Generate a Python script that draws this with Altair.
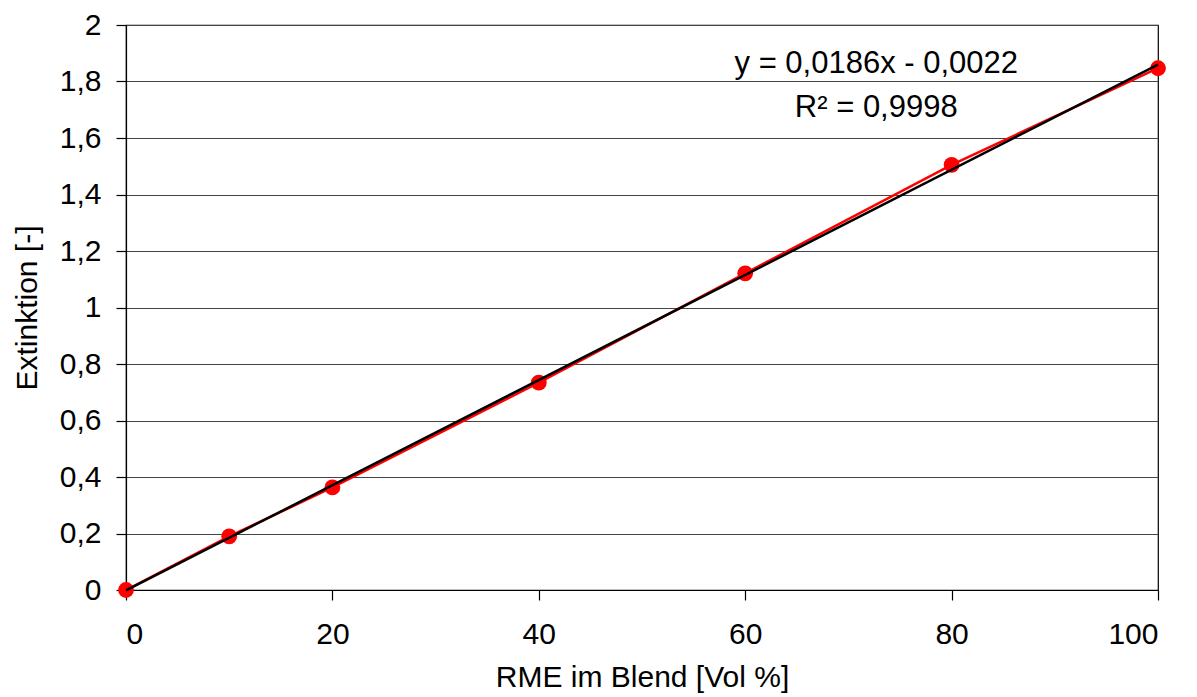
import altair as alt
import pandas as pd

# Measured absorbance for RME blend fractions
rme_vol = [0, 10, 20, 40, 60, 80, 100]
extinktion = [0.0, 0.19, 0.363, 0.734, 1.121, 1.505, 1.847]

x_ticks = [0, 20, 40, 60, 80, 100]
y_ticks = [0, 0.2, 0.4, 0.6, 0.8, 1.0, 1.2, 1.4, 1.6, 1.8, 2.0]

# Trendline equation and fit quality, placed near the upper right
note_lines = ["y = 0,0186x - 0,0022", "R² = 0,9998"]
note_x = [72.7, 72.7]
note_y = [1.83, 1.675]

df = pd.DataFrame({"x": rme_vol, "y": extinktion})
notes = pd.DataFrame({"text": note_lines, "x": note_x, "y": note_y})

FONT = "Liberation Sans"

x_enc = alt.X(
    "x:Q",
    scale=alt.Scale(domain=[0, 100], nice=False),
    axis=alt.Axis(
        title="RME im Blend [Vol %]",
        values=x_ticks,
        grid=False,
        tickSize=10,
        labelPadding=19,
        titlePadding=13,
    ),
)
y_enc = alt.Y(
    "y:Q",
    scale=alt.Scale(domain=[0, 2], nice=False),
    axis=alt.Axis(
        title="Extinktion [-]",
        values=y_ticks,
        grid=True,
        tickSize=10,
        labelPadding=15,
        titlePadding=17,
        labelExpr="replace(format(datum.value, ''), '.', ',')",
    ),
)

base = alt.Chart(df)

series_line = base.mark_line(color="#ff0000", strokeWidth=2.5).encode(x=x_enc, y=y_enc)
series_pts = base.mark_circle(color="#ff0000", size=250, opacity=1).encode(x="x:Q", y="y:Q")
trend = (
    base.transform_regression("x", "y", method="linear", extent=[0, 100])
    .mark_line(color="#000000", strokeWidth=2.5)
    .encode(x="x:Q", y="y:Q")
)
labels = (
    alt.Chart(notes)
    .mark_text(font=FONT, fontSize=31, color="#000000", align="center", baseline="alphabetic")
    .encode(x="x:Q", y="y:Q", text="text:N")
)

chart = (
    alt.layer(series_line, series_pts, trend, labels)
    .properties(
        width=1032,
        height=565,
        padding={"left": 126, "top": 25, "right": 39, "bottom": 107},
        autosize=alt.AutoSizeParams(type="none"),
        background="white",
    )
    .configure_view(stroke="#000000", strokeWidth=1.2)
    .configure_axis(
        labelFont=FONT,
        titleFont=FONT,
        labelFontSize=30,
        titleFontSize=30,
        titleFontWeight="normal",
        labelColor="#000000",
        titleColor="#000000",
        domainColor="#000000",
        domainWidth=1.2,
        tickColor="#000000",
        tickWidth=1.2,
        gridColor="#444444",
        gridWidth=1.2,
    )
)

chart.save("out.html", embed_options={"renderer": "svg", "actions": False})
